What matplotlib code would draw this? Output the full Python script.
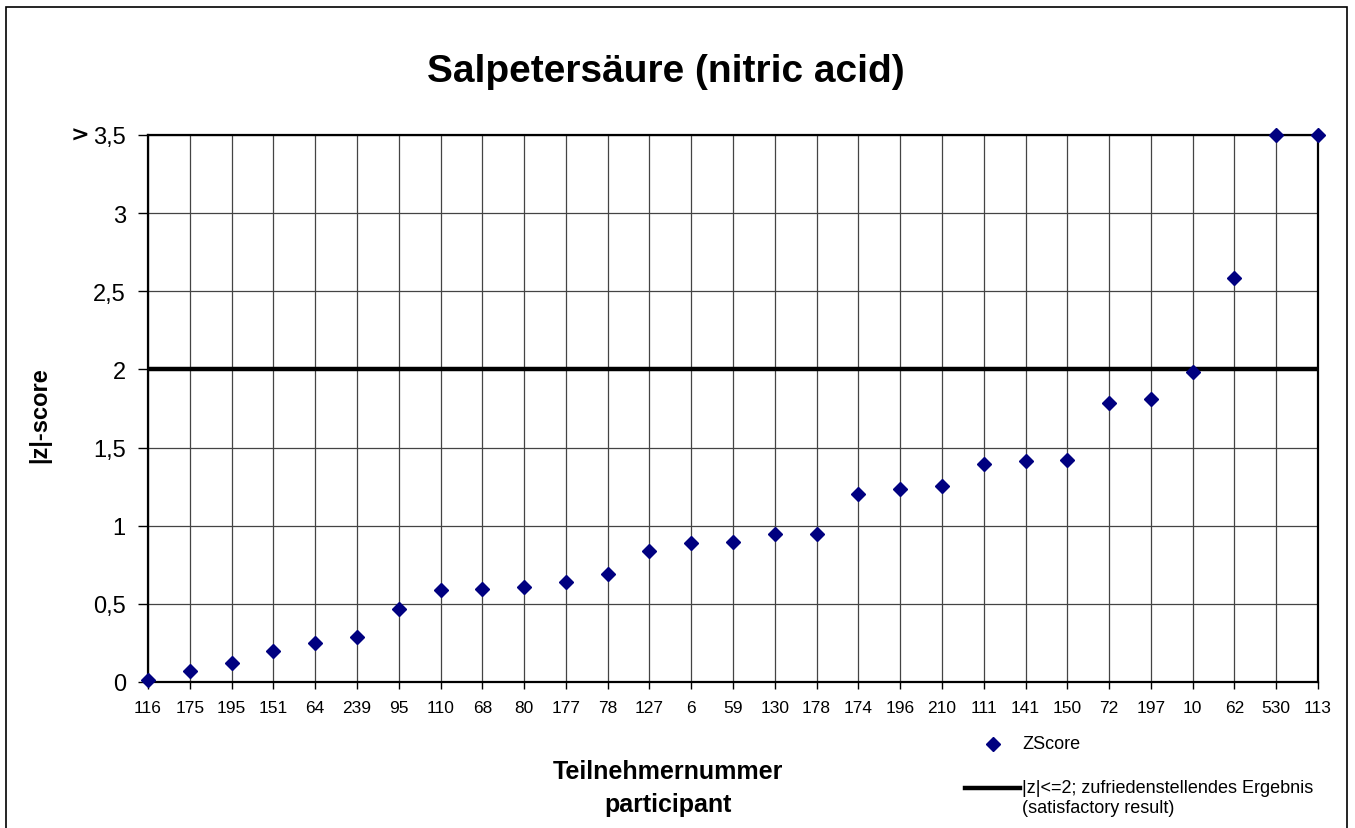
import matplotlib
matplotlib.use("Agg")
import matplotlib.pyplot as plt
from matplotlib.lines import Line2D
from matplotlib.patches import Rectangle

plt.rcParams['font.family'] = ['Liberation Sans', 'DejaVu Sans']

participants = ["116", "175", "195", "151", "64", "239", "95", "110", "68", "80",
                "177", "78", "127", "6", "59", "130", "178", "174", "196", "210",
                "111", "141", "150", "72", "197", "10", "62", "530", "113"]
zscores = [0.015, 0.07, 0.123, 0.198, 0.25, 0.29, 0.47, 0.59, 0.595, 0.61,
           0.64, 0.69, 0.84, 0.89, 0.895, 0.95, 0.95, 1.20, 1.235, 1.257,
           1.393, 1.416, 1.42, 1.785, 1.808, 1.985, 2.585, 3.5, 3.5]
limit_value = 2.0
ytick_values = [0, 0.5, 1, 1.5, 2, 2.5, 3, 3.5]
ytick_labels = ["0", "0,5", "1", "1,5", "2", "2,5", "3", "3,5"]

W, H = 1355, 829
fig = plt.figure(figsize=(W / 100, H / 100), dpi=100)
ax = fig.add_axes([148 / W, 1 - 683 / H, (1318 - 148) / W, (683 - 136) / H])

x = list(range(len(participants)))
ax.set_xlim(0, len(participants) - 1)
ax.set_ylim(0, 3.5)

ax.set_xticks(x)
ax.set_xticklabels(participants, fontsize=12.5)
ax.set_yticks(ytick_values)
ax.set_yticklabels(ytick_labels, fontsize=17)
ax.tick_params(axis='y', direction='out', length=7, width=1, pad=9, colors='black')
ax.tick_params(axis='x', direction='out', length=5, width=1, pad=8, colors='black')

ax.grid(True, color='#444444', linewidth=0.9)
ax.set_axisbelow(True)
for s in ax.spines.values():
    s.set_color('black')
    s.set_linewidth(1.6)

ax.axhline(limit_value, color='black', linewidth=3.2, zorder=2)
ax.plot(x, zscores, linestyle='none', marker='D', markersize=7.6,
        color='#000080', clip_on=False, zorder=3)

# bold ">" in front of the top tick label
fig.text(80 / W, 1 - 136 / H, ">", fontsize=16, fontweight='bold',
         family='DejaVu Sans', ha='center', va='center')

fig.text(666 / W, 1 - 72 / H, "Salpetersäure (nitric acid)", fontsize=28,
         fontweight='bold', ha='center', va='center')
fig.text(40 / W, 1 - 415 / H, "|z|-score", fontsize=17, fontweight='bold',
         rotation=90, ha='center', va='center')
fig.text(668 / W, 1 - 772 / H, "Teilnehmernummer", fontsize=18, fontweight='bold',
         ha='center', va='center')
fig.text(668 / W, 1 - 805 / H, "participant", fontsize=18, fontweight='bold',
         ha='center', va='center')

# legend
fig.add_artist(Line2D([993 / W], [1 - 745 / H], marker='D', markersize=7.6,
                      color='#000080', linestyle='none'))
fig.text(1022 / W, 1 - 745 / H, "ZScore", fontsize=13, ha='left', va='center')
fig.add_artist(Line2D([965 / W, 1020 / W], [1 - 789 / H, 1 - 789 / H],
                      color='black', linewidth=3.2))
fig.text(1022 / W, 1 - 789 / H, "|z|<=2; zufriedenstellendes Ergebnis", fontsize=13,
         ha='left', va='center')
fig.text(1022 / W, 1 - 809 / H, "(satisfactory result)", fontsize=13,
         ha='left', va='center')

# outer frame
fig.add_artist(Rectangle((6 / W, -0.02), (1347 - 6) / W, 1 - 8 / H + 0.02,
                         transform=fig.transFigure, fill=False,
                         edgecolor='black', linewidth=1.2))

fig.savefig("out.png", dpi=100)
